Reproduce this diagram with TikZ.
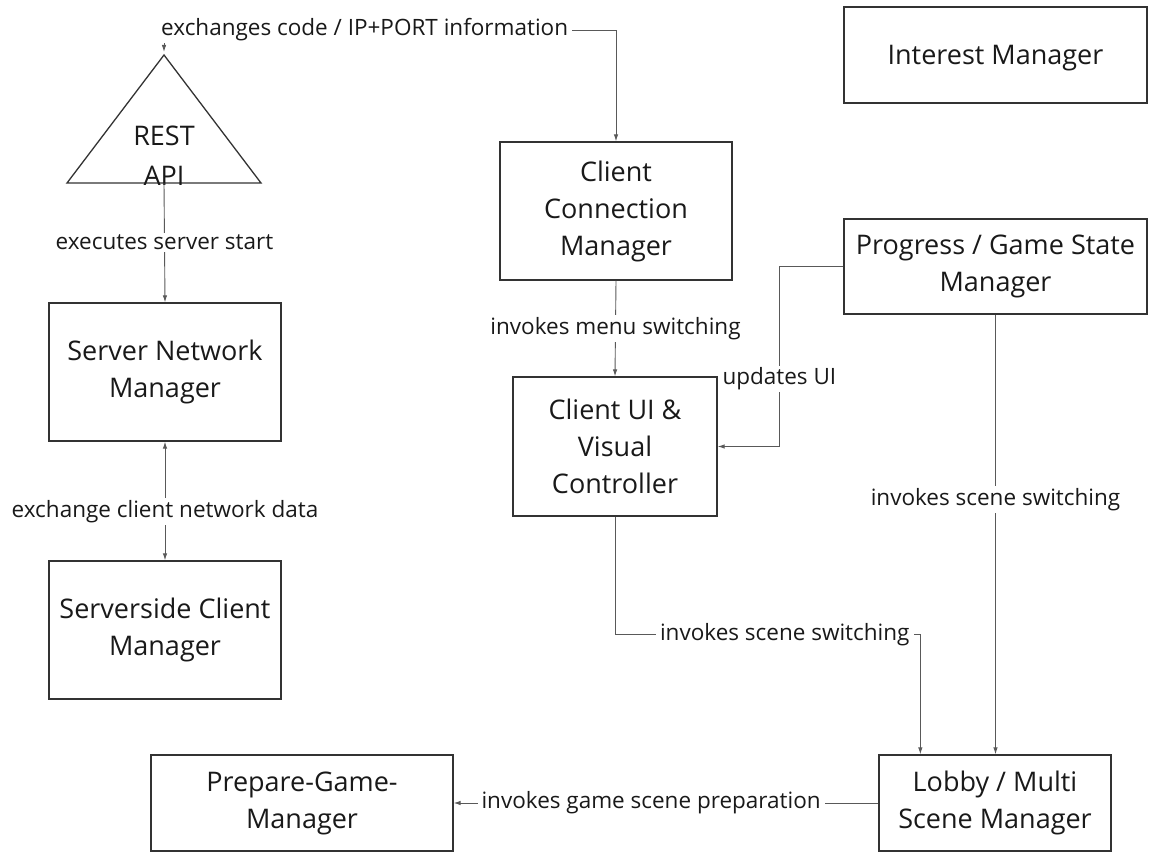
\documentclass[tikz,border=0pt]{standalone}
\usepackage{fontspec}
\setmainfont{Open Sans}
\usetikzlibrary{arrows.meta, calc}
\colorlet{myline}{black!65}
\colorlet{myborder}{black!80}

\begin{document}
\begin{tikzpicture}[
        x=1pt, y=-1pt,
        box/.style={
            draw=myborder,
            rectangle,
            line width=1.3pt,
            align=center,
            inner sep=0pt,
            text=black!90,
            font=\fontsize{27}{37}\selectfont,
            execute at begin node={\rule{0pt}{25.5pt}},
        },
        lbl/.style={
            fill=white,
            inner xsep=4pt,
            inner ysep=2pt,
            text=black!90,
            font=\fontsize{22.5}{27}\selectfont,
        },
    ]

    \useasboundingbox (0, 0) rectangle (1160, 861);

    \node[box, minimum width=303, minimum height=96] (im) at (995.5, 55) {Interest Manager};
    \node[box, minimum width=232, minimum height=138] (ccm) at (616, 211) {Client\\Connection\\Manager};
    \node[box, minimum width=303, minimum height=95] (prog) at (995.5, 266.5) {Progress / Game State\\Manager};
    \node[box, minimum width=232, minimum height=138] (snm) at (165, 372) {Server Network\\Manager};
    \node[box, minimum width=232, minimum height=138] (scm) at (165, 630) {Serverside Client\\Manager};
    \node[box, minimum width=204, minimum height=139] (cui) at (615, 446.5) {Client UI \&\\Visual\\Controller};
    \node[box, minimum width=232, minimum height=96] (lobby) at (995, 803) {Lobby / Multi\\Scene Manager};
    \node[box, minimum width=302, minimum height=96] (prep) at (302, 803) {Prepare-Game-\\Manager};

    % REST API triangle
    \coordinate (apiTop) at (164, 55);
    \coordinate (apiBase) at (164, 183);
    \coordinate (apiL) at (67, 183);
    \coordinate (apiR) at (261, 183);
    \draw[myborder, line width=1.3pt, line join=miter] (apiL) -- (apiTop) -- (apiR) -- cycle;
    \node[text=black!90, align=center, font=\fontsize{27}{40}\selectfont] (api) at (164, 156) {REST\\API};

    \begin{scope}[myline, line width=0.9pt, >={Latex[length=7pt, width=4.5pt]}]
        \draw[<->, shorten <=3pt] (apiTop) -- ++(0, -25) -| node[lbl, pos=0.222] {exchanges code / IP+PORT information} (ccm.north);
        \draw[->] (apiBase) -- node[lbl] {executes server start} (snm.north);
        \draw[<->] (snm.south) -- node[lbl, pos=0.59] {exchange client network data} (scm.north);
        \draw[->] (ccm.south) -- node[lbl] {invokes menu switching} (cui.north);
        \draw[->] (prog.west) -- ++(-64, 0) |- node[lbl, pos=0.312] {updates UI} (cui.east);
        \draw[->] (cui.south) -- ++(0, 118) -| node[lbl, pos=0.278] {invokes scene switching} ([xshift=42pt]lobby.north west);
        \draw[->] (prog.south) -- node[lbl, pos=0.42] {invokes scene switching} (prog.south |- lobby.north);
        \draw[->] (lobby.west) -- node[lbl, pos=0.535] {invokes game scene preparation} (prep.east);
    \end{scope}
\end{tikzpicture}
\end{document}
